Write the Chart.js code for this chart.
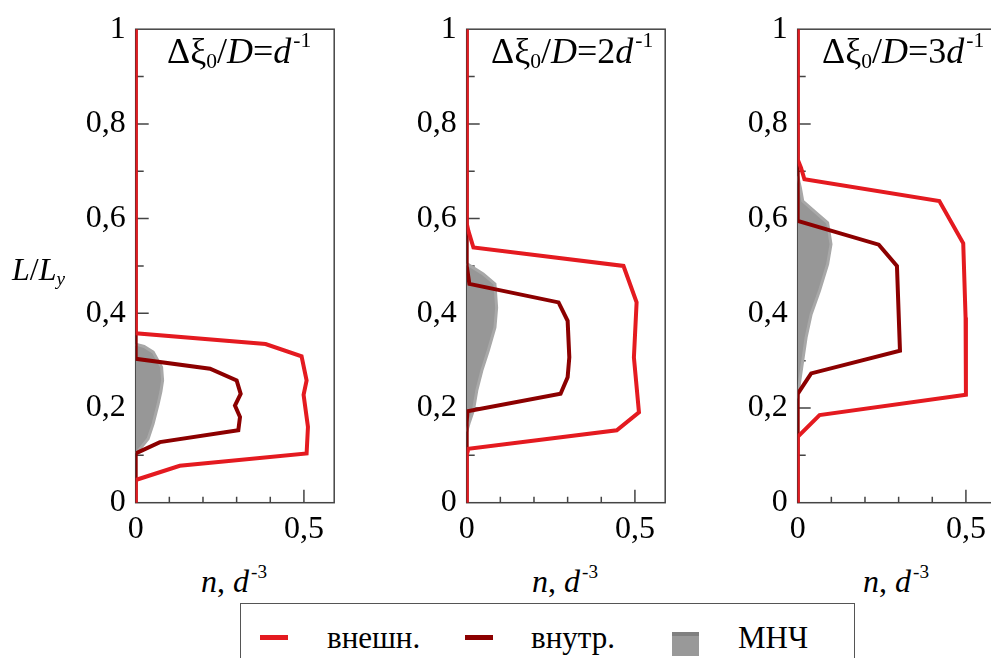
<!DOCTYPE html>
<html>
<head>
<meta charset="utf-8">
<script src="https://cdn.jsdelivr.net/npm/chart.js@4/dist/chart.umd.min.js"></script>
<style>
  body { margin: 0; width: 991px; height: 658px; overflow: hidden; position: relative; background: #fff;
         font-family: 'Liberation Serif', 'Noto Serif', 'FreeSerif', 'Tinos', Times, serif; color: #000; }
  canvas { position: absolute; top: 0; }
  .t { position: absolute; white-space: nowrap; line-height: 1; }
  .ttl { font-size: 36px; }
  .ax { font-size: 32px; width: 200px; text-align: center; }
  .sb { font-size: 0.6em; position: relative; top: 0.25em; }
  .sp { font-size: 0.6em; position: relative; top: -0.75em; margin-left: 2px; }
  #legend { position: absolute; left: 240px; top: 603px; width: 615px; height: 80px;
            border: 1.5px solid #555; box-sizing: border-box; }
  .mk { position: absolute; height: 5px; width: 28px; }
  .lt { position: absolute; font-size: 31px; line-height: 1; }
</style>
</head>
<body>
<canvas id="p1" width="340" height="560" style="left:0px"></canvas>
<canvas id="p2" width="340" height="560" style="left:331px"></canvas>
<canvas id="p3" width="340" height="560" style="left:662px"></canvas>

<div class="t ttl" style="left:167px;top:33px">Δξ<span class="sb">0</span>/<i>D</i>=<i>d</i><span class="sp">-1</span></div>
<div class="t ttl" style="left:491px;top:33px">Δξ<span class="sb">0</span>/<i>D</i>=2<i>d</i><span class="sp">-1</span></div>
<div class="t ttl" style="left:822px;top:33px">Δξ<span class="sb">0</span>/<i>D</i>=3<i>d</i><span class="sp">-1</span></div>

<div class="t" style="left:12px;top:253px;font-size:32px"><i>L</i>/<i>L<span class="sb">y</span></i></div>

<div class="t ax" style="left:134px;top:565px"><i>n</i>, <i>d</i><span class="sp">-3</span></div>
<div class="t ax" style="left:465px;top:565px"><i>n</i>, <i>d</i><span class="sp">-3</span></div>
<div class="t ax" style="left:796px;top:565px"><i>n</i>, <i>d</i><span class="sp">-3</span></div>

<div id="legend">
  <div class="mk" style="left:19px;top:31px;background:#e41a20"></div>
  <div class="lt" style="left:86px;top:18px">внешн.</div>
  <div class="mk" style="left:224px;top:31px;background:#8c0000"></div>
  <div class="lt" style="left:290px;top:18px">внутр.</div>
  <div style="position:absolute;left:431px;top:28px;width:27px;height:20px;background:#999;border-top:4px solid #808080"></div>
  <div class="lt" style="left:497px;top:18px">МНЧ</div>
</div>

<script>
// tick labels
const xTickVals = [0, 0.5];
const xTickLabels = ['0', '0,5'];
const yTickVals = [0, 0.2, 0.4, 0.6, 0.8, 1];
const yTickLabels = ['0', '0,2', '0,4', '0,6', '0,8', '1'];

// panel 1: Δξ0/D = d^-1   points are [n, L/Ly]
const outer1 = [[0,1],[0,0.358],[0.386,0.335],[0.493,0.309],[0.508,0.258],[0.499,0.228],[0.512,0.160],[0.508,0.104],[0.131,0.078],[0,0.048],[0,0]];
const inner1 = [[0,1],[0,0.304],[0.221,0.283],[0.300,0.258],[0.312,0.230],[0.295,0.205],[0.310,0.181],[0.305,0.153],[0.072,0.128],[0,0.104],[0,0]];
const mnp1   = [[0,0.335],[0.025,0.330],[0.052,0.318],[0.077,0.286],[0.080,0.258],[0.075,0.235],[0.067,0.209],[0.052,0.167],[0.037,0.135],[0.013,0.114],[0,0.104]];

// panel 2: Δξ0/D = 2d^-1
const outer2 = [[0,1],[0,0.59],[0.005,0.574],[0.02,0.539],[0.466,0.500],[0.505,0.423],[0.497,0.307],[0.512,0.191],[0.446,0.153],[0.005,0.114],[0,0.10],[0,0]];
const inner2 = [[0,1],[0,0.50],[0.008,0.462],[0.273,0.423],[0.300,0.384],[0.305,0.307],[0.300,0.265],[0.279,0.230],[0.002,0.193],[0,0.17],[0,0]];
const mnp2   = [[0,0.505],[0.049,0.483],[0.084,0.462],[0.089,0.412],[0.084,0.370],[0.064,0.321],[0.045,0.279],[0.030,0.237],[0.020,0.195],[0.008,0.170],[0,0.150]];

// panel 3: Δξ0/D = 3d^-1
const outer3 = [[0,1],[0,0.725],[0.010,0.707],[0.020,0.683],[0.421,0.637],[0.492,0.548],[0.499,0.391],[0.500,0.228],[0.065,0.185],[0,0.139],[0,0]];
const inner3 = [[0,1],[0,0.595],[0.241,0.545],[0.295,0.500],[0.304,0.321],[0.040,0.273],[0,0.230],[0,0]];
const mnp3   = [[0,0.69],[0.008,0.665],[0.015,0.637],[0.055,0.612],[0.089,0.591],[0.099,0.546],[0.089,0.504],[0.065,0.448],[0.040,0.398],[0.025,0.349],[0.015,0.300],[0.005,0.251],[0,0.22]];

const RED = '#e41a20';
const DARK = '#8c0000';
const FONT = {family: "'Liberation Serif', 'Noto Serif', 'FreeSerif', 'Tinos', Times, serif", size: 32};

// frame + inward ticks, drawn under the curves
const frame = {
  id: 'frame',
  beforeDatasetsDraw(chart) {
    const {ctx, chartArea: a, scales: {x, y}} = chart;
    ctx.save();
    ctx.strokeStyle = '#444';
    ctx.lineWidth = 1.5;
    ctx.strokeRect(a.left, a.top, a.right - a.left, a.bottom - a.top);
    ctx.beginPath();
    for (let i = 1; i < 10; i++) {
      const py = y.getPixelForValue(i / 10);
      ctx.moveTo(a.left, py);
      ctx.lineTo(a.left + (i % 2 == 0 ? 13 : 8), py);
    }
    for (let i = 1; i <= 5; i++) {
      const px = x.getPixelForValue(i / 10);
      ctx.moveTo(px, a.bottom);
      ctx.lineTo(px, a.bottom - (i == 5 ? 13 : 6));
    }
    ctx.stroke();
    ctx.restore();
  }
};

const pts = arr => arr.map(p => ({x: p[0], y: p[1]}));

function makePanel(id, outer, inner, mnp) {
  new Chart(document.getElementById(id), {
    type: 'scatter',
    data: {
      datasets: [
        {label: 'внешн.', data: pts(outer), showLine: true, borderColor: RED, borderWidth: 4, pointRadius: 0, fill: false},
        {label: 'внутр.', data: pts(inner), showLine: true, borderColor: DARK, borderWidth: 4, pointRadius: 0, fill: false},
        {label: 'МНЧ', data: pts(mnp), showLine: true, borderColor: '#a8a8a8', backgroundColor: '#979797', borderWidth: 3, pointRadius: 0, fill: 'shape'}
      ]
    },
    options: {
      responsive: false,
      animation: false,
      devicePixelRatio: 1,
      layout: {padding: {top: 27.3, right: 5.8, left: 0, bottom: 0}},
      plugins: {legend: {display: false}, tooltip: {enabled: false}},
      scales: {
        x: {
          type: 'linear', min: 0, max: 0.59,
          grid: {display: false, drawTicks: false},
          border: {display: false},
          afterBuildTicks: s => { s.ticks = xTickVals.map(v => ({value: v})); },
          afterFit: s => { s.height = 57.3; },
          ticks: {padding: 8, maxRotation: 0, autoSkip: false, color: '#000', font: FONT,
                  callback: (v, i) => xTickLabels[i]}
        },
        y: {
          type: 'linear', min: 0, max: 1,
          grid: {display: false, drawTicks: false},
          border: {display: false},
          afterBuildTicks: s => { s.ticks = yTickVals.map(v => ({value: v})); },
          afterFit: s => { s.width = 135.7; },
          ticks: {padding: 10, autoSkip: false, color: '#000', font: FONT,
                  callback: (v, i) => yTickLabels[i]}
        }
      }
    },
    plugins: [frame]
  });
}

makePanel('p1', outer1, inner1, mnp1);
makePanel('p2', outer2, inner2, mnp2);
makePanel('p3', outer3, inner3, mnp3);
</script>
</body>
</html>
